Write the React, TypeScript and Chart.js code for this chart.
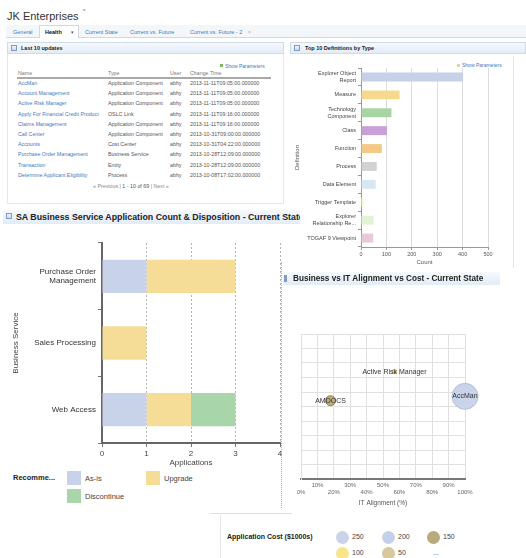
import React, { useEffect, useRef } from 'react';
import { Chart, registerables } from 'chart.js';

Chart.register(...registerables);

const FONT = '"Liberation Sans", Arial, Helvetica, sans-serif';

// ---------- Main chart: SA Business Service Application Count & Disposition ----------
const serviceLabels: (string | string[])[] = [['Purchase Order', 'Management'], 'Sales Processing', 'Web Access'];
const asIsCounts = [1, 0, 1];
const upgradeCounts = [2, 1, 1];
const discontinueCounts = [0, 0, 1];
const applicationTicks = [0, 1, 2, 3, 4];
const recommendationNames = ['As-is', 'Upgrade', 'Discontinue'];

// ---------- Top 10 Definitions by Type ----------
const definitionTypes: (string | string[])[] = [
  ['Explorer Object', 'Report'],
  'Measure',
  ['Technology', 'Component'],
  'Class',
  'Function',
  'Process',
  'Data Element',
  'Trigger Template',
  ['Explorer', 'Relationship Re...'],
  'TOGAF 9 Viewpoint',
];
const definitionCounts = [402, 152, 120, 102, 82, 62, 58, 10, 50, 48];
const countTicks = [0, 100, 200, 300, 400, 500];

// ---------- Business vs IT Alignment vs Cost ----------
const bubbleNames = ['AMDOCS', 'Active Risk Manager', 'AccMan'];
const itAlignment = [18, 57, 100];
const businessAlignment = [54, 74, 57];
const bubbleRadius = [5, 2, 13];
const alignmentTicks = [0, 10, 20, 30, 40, 50, 60, 70, 80, 90, 100];
const costLegendValues = ['250', '200', '150', '100', '50', '...'];

// ---------- Last 10 updates ----------
const updateNames = [
  'AccMan',
  'Account Management',
  'Active Risk Manager',
  'Apply For Financial Credit Product',
  'Claims Management',
  'Call Center',
  'Accounts',
  'Purchase Order Management',
  'Transaction',
  'Determine Applicant Eligibility',
];
const updateTypes = [
  'Application Component',
  'Application Component',
  'Application Component',
  'OSLC Link',
  'Application Component',
  'Application Component',
  'Cost Center',
  'Business Service',
  'Entity',
  'Process',
];
const updateUsers = ['abhy', 'abhy', 'abhy', 'abhy', 'abhy', 'abhy', 'abhy', 'abhy', 'abhy', 'abhy'];
const updateTimes = [
  '2013-11-11T09:05:00.000000',
  '2013-11-11T09:05:00.000000',
  '2013-11-11T09:05:00.000000',
  '2013-11-11T09:16:00.000000',
  '2013-11-11T09:16:00.000000',
  '2013-10-31T09:00:00.000000',
  '2013-10-31T04:22:00.000000',
  '2013-10-28T12:09:00.000000',
  '2013-10-28T12:09:00.000000',
  '2013-10-08T17:02:00.000000',
];
const tabNames = ['General', 'Health', 'Current State', 'Current vs. Future', 'Current vs. Future - 2'];

// ---------- styles ----------
const REC_COLORS = ['#c8d2e9', '#f5dd98', '#a9d5ab'];
const DEF_COLORS = ['#c6d1e8', '#f6d98d', '#a9d5a5', '#c99fd8', '#f4c987', '#d2d2d2', '#d7e9f0', '#fbf8c8', '#e4f1d8', '#e9c8dc'];
const BUBBLE_FILL = ['#bdae7a', '#f2d66a', '#c9d4ea'];
const BUBBLE_STROKE = ['#8f804f', '#d8b840', '#b3c0dc'];
const COST_COLORS = ['#c9d4ea', '#c5d1ea', '#b8aa7c', '#f8e48a', '#d7c99b', 'transparent'];
const LINK = '#3f79c1';

function ChartBox({ config, style }: { config: () => any; style: React.CSSProperties }) {
  const ref = useRef<HTMLCanvasElement | null>(null);
  useEffect(() => {
    const chart = new Chart(ref.current as HTMLCanvasElement, config());
    return () => chart.destroy();
  }, []);
  return (
    <div style={{ position: 'absolute', ...style }}>
      <canvas ref={ref} />
    </div>
  );
}

function mainConfig(): any {
  const font = { family: FONT, size: 8 };
  return {
    type: 'bar',
    data: {
      labels: serviceLabels,
      datasets: [
        { label: recommendationNames[0], data: asIsCounts, backgroundColor: REC_COLORS[0] },
        { label: recommendationNames[1], data: upgradeCounts, backgroundColor: REC_COLORS[1] },
        { label: recommendationNames[2], data: discontinueCounts, backgroundColor: REC_COLORS[2] },
      ],
    },
    options: {
      indexAxis: 'y',
      animation: false,
      responsive: true,
      maintainAspectRatio: false,
      layout: { padding: { top: 8, right: 10, bottom: 0, left: 8 } },
      plugins: { legend: { display: false }, tooltip: { enabled: false } },
      datasets: { bar: { barPercentage: 0.5, categoryPercentage: 1 } },
      scales: {
        x: {
          stacked: true,
          min: applicationTicks[0],
          max: applicationTicks[applicationTicks.length - 1],
          ticks: { stepSize: applicationTicks[1] - applicationTicks[0], color: '#444', font, padding: 2 },
          grid: { color: '#b5b5b5', tickLength: 4, tickColor: '#777', lineWidth: 1 },
          border: { color: '#666', width: 2, dash: [2, 2] },
          title: { display: true, text: 'Applications', color: '#444', font, padding: 0 },
          afterFit: (s: any) => {
            s.height = 25;
            s.paddingLeft = 0;
            s.paddingRight = 0;
          },
        },
        y: {
          stacked: true,
          ticks: { color: '#333', font, padding: 2 },
          grid: { drawOnChartArea: false, tickLength: 4, color: '#777' },
          border: { color: '#666', width: 2 },
          title: { display: true, text: 'Business Service', color: '#444', font, padding: { top: 3, bottom: 0 } },
          afterFit: (s: any) => {
            s.width = 94;
            s.paddingTop = 0;
            s.paddingBottom = 0;
          },
        },
      },
    },
  };
}

function defsConfig(): any {
  const font = { family: FONT, size: 5.5 };
  return {
    type: 'bar',
    data: {
      labels: definitionTypes,
      datasets: [{ label: 'Count', data: definitionCounts, backgroundColor: DEF_COLORS }],
    },
    options: {
      indexAxis: 'y',
      animation: false,
      responsive: true,
      maintainAspectRatio: false,
      layout: { padding: { top: 8, right: 10, bottom: 0, left: 4 } },
      plugins: { legend: { display: false }, tooltip: { enabled: false } },
      datasets: { bar: { barPercentage: 0.5, categoryPercentage: 1 } },
      scales: {
        x: {
          min: countTicks[0],
          max: countTicks[countTicks.length - 1],
          ticks: { stepSize: countTicks[1] - countTicks[0], color: '#555', font, padding: 1 },
          grid: { color: '#dcdcdc', tickLength: 3, tickColor: '#999' },
          border: { color: '#999', width: 1 },
          title: { display: true, text: 'Count', color: '#555', font: { family: FONT, size: 6 }, padding: 0 },
          afterFit: (s: any) => {
            s.height = 19;
            s.paddingLeft = 0;
            s.paddingRight = 0;
          },
        },
        y: {
          ticks: { color: '#444', font, padding: 2 },
          grid: { drawOnChartArea: false, tickLength: 3, color: '#999' },
          border: { color: '#999', width: 1 },
          title: { display: true, text: 'Definition', color: '#555', font: { family: FONT, size: 6 }, padding: 0 },
          afterFit: (s: any) => {
            s.width = 67;
            s.paddingTop = 0;
            s.paddingBottom = 0;
          },
        },
      },
    },
  };
}

const bubbleLabelPlugin = {
  id: 'bubbleLabels',
  afterDatasetsDraw(chart: any) {
    const ctx = chart.ctx;
    const meta = chart.getDatasetMeta(0);
    ctx.save();
    ctx.font = `7px ${FONT}`;
    ctx.fillStyle = '#333';
    ctx.textAlign = 'center';
    ctx.textBaseline = 'middle';
    meta.data.forEach((el: any, i: number) => ctx.fillText(bubbleNames[i], el.x, el.y));
    ctx.restore();
  },
};

function bubbleConfig(): any {
  const tickFont = { family: FONT, size: 6 };
  return {
    type: 'bubble',
    data: {
      datasets: [
        {
          label: 'Application Cost',
          data: bubbleNames.map((_, i) => ({ x: itAlignment[i], y: businessAlignment[i], r: bubbleRadius[i] })),
          backgroundColor: BUBBLE_FILL,
          borderColor: BUBBLE_STROKE,
          borderWidth: 1,
          clip: false,
        },
      ],
    },
    options: {
      animation: false,
      responsive: true,
      maintainAspectRatio: false,
      layout: { padding: { top: 7, right: 15, bottom: 0, left: 0 } },
      plugins: { legend: { display: false }, tooltip: { enabled: false } },
      scales: {
        x: {
          min: alignmentTicks[0],
          max: alignmentTicks[alignmentTicks.length - 1],
          ticks: {
            stepSize: alignmentTicks[1] - alignmentTicks[0],
            autoSkip: false,
            maxRotation: 0,
            color: '#666',
            font: tickFont,
            padding: 3,
            callback: (v: any, i: number) => (i % 2 ? [`${v}%`, ''] : ['', `${v}%`]),
          },
          grid: { color: '#e0e0e0', drawTicks: false },
          border: { color: '#777', width: 2 },
          title: { display: true, text: 'IT Alignment (%)', color: '#555', font: { family: FONT, size: 6.5 }, padding: 0 },
          afterFit: (s: any) => {
            s.height = 28;
            s.paddingLeft = 0;
            s.paddingRight = 0;
          },
        },
        y: {
          min: alignmentTicks[0],
          max: alignmentTicks[alignmentTicks.length - 1],
          ticks: { stepSize: alignmentTicks[1] - alignmentTicks[0], display: false },
          grid: { color: '#e0e0e0', drawTicks: false },
          border: { color: '#e0e0e0', width: 1 },
          afterFit: (s: any) => {
            s.width = 8;
            s.paddingTop = 0;
            s.paddingBottom = 0;
          },
        },
      },
    },
    plugins: [bubbleLabelPlugin],
  };
}

function T(props: {
  x: number;
  y: number;
  s: number;
  children: any;
  color?: string;
  bold?: boolean;
}) {
  const { x, y, s, children, color = '#333', bold = false } = props;
  const h = Math.ceil(s * 1.4);
  return (
    <div
      style={{
        position: 'absolute',
        left: x,
        top: y - h / 2,
        height: h,
        lineHeight: h + 'px',
        fontSize: s,
        color,
        fontWeight: bold ? 700 : 400,
        whiteSpace: 'nowrap',
      }}
    >
      {children}
    </div>
  );
}

function Box(props: { x: number; y: number; w: number; h: number; style?: React.CSSProperties }) {
  return (
    <div
      style={{ position: 'absolute', left: props.x, top: props.y, width: props.w, height: props.h, boxSizing: 'border-box', ...props.style }}
    />
  );
}

function PanelIcon({ x, y }: { x: number; y: number }) {
  return (
    <div
      style={{
        position: 'absolute',
        left: x,
        top: y,
        width: 6,
        height: 6,
        border: '1px solid #7d9dc6',
        background: 'linear-gradient(#eef4fb, #c9daf0)',
        boxSizing: 'border-box',
      }}
    />
  );
}

const HEADER_BG = 'linear-gradient(#f6f9fd, #e2ecf7)';

export default function App() {
  const tabX = [13, 45, 85, 130, 190];
  const rowY = (i: number) => 83 + i * 10.2;
  return (
    <div
      style={{
        position: 'fixed',
        left: 0,
        top: 0,
        width: 526,
        height: 558,
        background: '#fff',
        overflow: 'hidden',
        fontFamily: FONT,
      }}
    >
      {/* Title */}
      <T x={7} y={16} s={11} color="#333">
        JK Enterprises
      </T>
      <T x={83} y={11} s={6} color="#666">
        *
      </T>

      {/* Tabs */}
      <Box x={6} y={25} w={520} h={13} style={{ background: '#f4f7fa', borderBottom: '1px solid #cfd9e3' }} />
      <Box x={39} y={25} w={40} h={13} style={{ background: '#fff', border: '1px solid #cfd9e3', borderBottom: 'none' }} />
      {tabNames.map((t, i) => (
        <T key={t} x={tabX[i]} y={32} s={5.5} color={i === 1 ? '#111' : LINK} bold={i === 1}>
          {t}
        </T>
      ))}
      <T x={71} y={32} s={5} color="#555">
        ▾
      </T>
      <T x={248} y={32} s={5} color="#aaa">
        ×
      </T>

      {/* Panel 1: Last 10 updates */}
      <Box x={7} y={42} w={277} h={162} style={{ border: '1px solid #e3e8ee' }} />
      <Box x={7} y={42} w={277} h={12} style={{ background: HEADER_BG, border: '1px solid #cfdbe8' }} />
      <PanelIcon x={11} y={45} />
      <T x={21} y={48} s={5.5} bold color="#222">
        Last 10 updates
      </T>
      <Box x={220} y={64} w={3} h={3} style={{ background: '#7dbb5a' }} />
      <T x={225} y={66} s={5} color={LINK}>
        Show Parameters
      </T>
      <T x={18} y={73} s={5.3} color="#777">
        Name
      </T>
      <T x={108} y={73} s={5.3} color="#777">
        Type
      </T>
      <T x={170} y={73} s={5.3} color="#777">
        User
      </T>
      <T x={190} y={73} s={5.3} color="#777">
        Change Time
      </T>
      <Box x={17} y={77} w={254} h={1.5} style={{ background: '#a9a9a9' }} />
      {updateNames.map((n, i) => (
        <React.Fragment key={i}>
          <T x={18} y={rowY(i)} s={5.3} color={LINK}>
            {n}
          </T>
          <T x={108} y={rowY(i)} s={5.3} color="#555">
            {updateTypes[i]}
          </T>
          <T x={170} y={rowY(i)} s={5.3} color="#555">
            {updateUsers[i]}
          </T>
          <T x={190} y={rowY(i)} s={5.3} color="#555">
            {updateTimes[i]}
          </T>
        </React.Fragment>
      ))}
      <T x={93} y={186} s={5.3} color="#888">
        « Previous | <span style={{ color: '#555' }}>1 - 10 of 69</span> | Next »
      </T>

      {/* Panel 2: Top 10 Definitions by Type */}
      <Box x={290} y={42} w={236} h={12} style={{ background: HEADER_BG, border: '1px solid #cfdbe8' }} />
      <PanelIcon x={294} y={45} />
      <T x={305} y={48} s={5.5} bold color="#222">
        Top 10 Definitions by Type
      </T>
      <Box x={513} y={56} w={1} h={212} style={{ background: '#e6e6e6' }} />
      <Box x={457} y={64} w={3} h={3} style={{ background: '#c7e3a0' }} />
      <T x={462} y={65} s={5} color={LINK}>
        Show Parameters
      </T>
      <ChartBox config={defsConfig} style={{ left: 290, top: 60, width: 208, height: 206 }} />

      {/* Main panel */}
      <Box x={0} y={205} w={290} h={308} style={{ background: '#fff' }} />
      <div
        style={{
          position: 'absolute',
          left: 3,
          top: 210,
          width: 297,
          height: 14,
          background: HEADER_BG,
          overflow: 'hidden',
          whiteSpace: 'nowrap',
          boxSizing: 'border-box',
        }}
      >
        <div style={{ position: 'absolute', left: 13, top: 0, lineHeight: '14px', fontSize: 8.8, fontWeight: 700, color: '#222' }}>
          SA Business Service Application Count &amp; Disposition - Current State
        </div>
      </div>
      <PanelIcon x={6} y={213} />
      <ChartBox config={mainConfig} style={{ left: 0, top: 235, width: 290, height: 233 }} />

      {/* Main legend */}
      <T x={13} y={477} s={7.5} bold color="#222">
        Recomme...
      </T>
      <Box x={67} y={471} w={14} h={14} style={{ background: REC_COLORS[0] }} />
      <T x={85} y={478} s={7.5} color="#444">
        {recommendationNames[0]}
      </T>
      <Box x={146} y={471} w={14} h={14} style={{ background: REC_COLORS[1] }} />
      <T x={164} y={478} s={7.5} color="#444">
        {recommendationNames[1]}
      </T>
      <Box x={67} y={489} w={14} h={14} style={{ background: REC_COLORS[2] }} />
      <T x={85} y={496} s={7.5} color="#444">
        {recommendationNames[2]}
      </T>

      {/* Bubble panel */}
      <Box x={281} y={262} w={1} h={246} style={{ borderLeft: '1px dotted #aaa' }} />
      <Box x={283} y={272} w={217} h={13} style={{ background: HEADER_BG }} />
      <Box x={284} y={275} w={3} h={7} style={{ background: '#7d9dc6' }} />
      <T x={293} y={278.5} s={8.2} bold color="#222">
        Business vs IT Alignment vs Cost - Current State
      </T>
      <ChartBox config={bubbleConfig} style={{ left: 287, top: 320, width: 193, height: 187 }} />

      {/* Bottom region lines */}
      <Box x={210} y={513} w={82} h={1} style={{ background: '#e0e0e0' }} />
      <Box x={220} y={515} w={1} h={43} style={{ background: '#e6e6e6' }} />

      {/* Bubble legend */}
      <T x={227} y={537} s={7} bold color="#222">
        Application Cost ($1000s)
      </T>
      {costLegendValues.map((v, i) => {
        const col = i % 3;
        const row = Math.floor(i / 3);
        const cx = [342, 388, 433][col];
        const cy = 537 + row * 16;
        const isMore = v === '...';
        return (
          <React.Fragment key={i}>
            {!isMore && (
              <div
                style={{
                  position: 'absolute',
                  left: cx - 6.5,
                  top: cy - 6.5,
                  width: 13,
                  height: 13,
                  borderRadius: '50%',
                  background: COST_COLORS[i],
                }}
              />
            )}
            <T x={isMore ? cx : cx + 10} y={cy} s={7} color="#444">
              {v}
            </T>
          </React.Fragment>
        );
      })}
    </div>
  );
}
